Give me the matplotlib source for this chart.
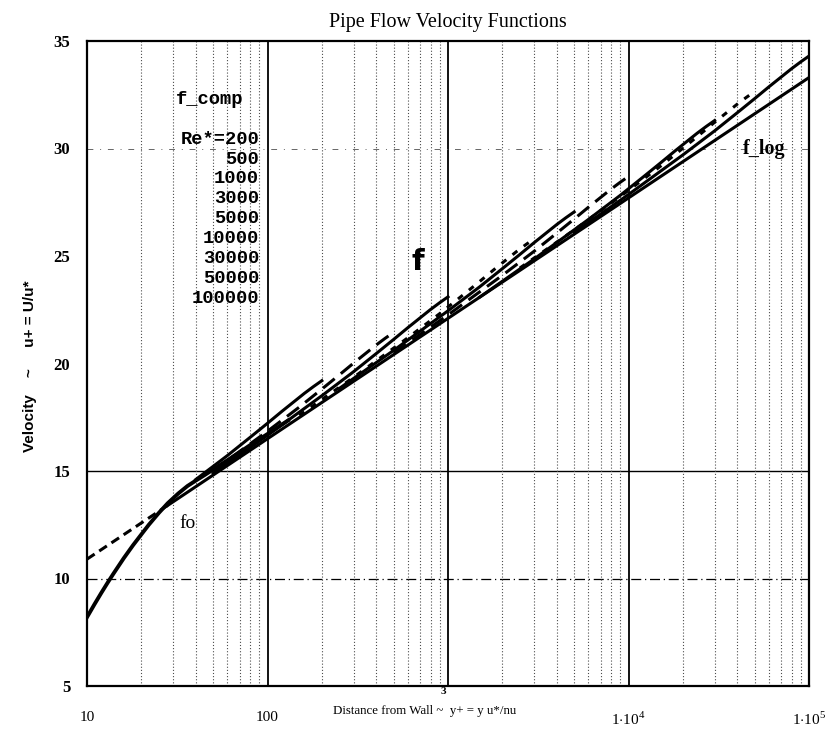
import numpy as np
import matplotlib.pyplot as plt
from matplotlib.ticker import LogLocator, NullFormatter

plt.rcParams['mathtext.fontset'] = 'custom'
plt.rcParams['mathtext.rm'] = 'Liberation Serif'

# near-wall function fo
fo_x = [10, 11, 12, 13, 14, 16, 18, 20, 22, 25, 28, 32, 36, 40, 45, 50, 60, 70, 80, 100, 130]
fo_y = [8.2, 8.8, 9.33, 9.8, 10.22, 10.95, 11.55, 12.05, 12.5, 13.05, 13.5, 13.95,
        14.3, 14.55, 14.82, 15.07, 15.5, 15.87, 16.2, 16.72, 17.35]

# log law f_log (dashed below the fo junction, solid above)
flog_x = [10, 28, 100, 1000, 10000, 100000]
flog_y = [10.9, 13.4, 16.5, 22.1, 27.7, 33.3]

# composite curves f_comp, one per Re*
re200_x = [40, 60, 80, 100, 120, 140, 160, 180, 200]
re200_y = [14.6, 15.72, 16.56, 17.22, 17.77, 18.22, 18.61, 18.93, 19.2]
re500_x = [50, 100, 150, 200, 250, 300, 350, 400, 450, 500]
re500_y = [15.01, 16.85, 17.97, 18.81, 19.47, 20.02, 20.47, 20.86, 21.18, 21.45]
re1000_x = [50, 100, 200, 300, 400, 500, 600, 700, 800, 900, 1000]
re1000_y = [14.89, 16.66, 18.5, 19.62, 20.46, 21.12, 21.67, 22.12, 22.51, 22.83, 23.1]
re3000_x = [150, 300, 600, 900, 1200, 1500, 1800, 2100, 2400, 2700, 3000]
re3000_y = [17.59, 19.36, 21.2, 22.32, 23.16, 23.82, 24.37, 24.82, 25.21, 25.53, 25.8]
re5000_x = [250, 500, 1000, 1500, 2000, 2500, 3000, 3500, 4000, 4500, 5000]
re5000_y = [18.84, 20.61, 22.45, 23.57, 24.41, 25.07, 25.62, 26.07, 26.46, 26.78, 27.05]
re10000_x = [500, 1000, 2000, 3000, 4000, 5000, 6000, 7000, 8000, 9000, 10000]
re10000_y = [20.49, 22.26, 24.1, 25.22, 26.06, 26.72, 27.27, 27.72, 28.11, 28.43, 28.7]
re30000_x = [1500, 3000, 6000, 9000, 12000, 15000, 18000, 21000, 24000, 27000, 30000]
re30000_y = [23.09, 24.86, 26.7, 27.82, 28.66, 29.32, 29.87, 30.32, 30.71, 31.03, 31.3]
re50000_x = [2500, 5000, 10000, 15000, 20000, 25000, 30000, 35000, 40000, 45000, 50000]
re50000_y = [24.44, 26.21, 28.05, 29.17, 30.01, 30.67, 31.22, 31.67, 32.06, 32.38, 32.65]
re100000_x = [5000, 10000, 20000, 30000, 40000, 50000, 60000, 70000, 80000, 90000, 100000]
re100000_y = [26.09, 27.86, 29.7, 30.82, 31.66, 32.32, 32.87, 33.32, 33.71, 34.03, 34.3]

re_labels = ['Re*=200', '500', '1000', '3000', '5000', '10000', '30000', '50000', '100000']
x_ticks = [10, 100, 1000, 10000, 100000]
x_ticklabels = ['10', '100', '', r'$1{\cdot}10^{4}$', r'$1{\cdot}10^{5}$']
y_ticks = [5, 10, 15, 20, 25, 30, 35]

W, H = 838, 734
fig = plt.figure(figsize=(W / 100, H / 100), dpi=100)
ax = fig.add_axes([87 / W, 1 - 686 / H, (809 - 87) / W, (686 - 41) / H])
ax.set_xscale('log')
ax.set_xlim(10, 1e5)
ax.set_ylim(5, 35)

# grid
ax.xaxis.set_minor_locator(LogLocator(base=10, subs=np.arange(2, 10)))
ax.xaxis.set_minor_formatter(NullFormatter())
ax.grid(which='minor', axis='x', color='0.3', ls=(0, (1, 1.8)), lw=0.8)
for xv in x_ticks[1:4]:
    ax.axvline(xv, color='black', lw=1.3, zorder=1)
ax.axhline(15, color='black', lw=1.0, zorder=1)
ax.axhline(10, color='black', lw=0.9, ls=(0, (8, 3, 1, 3)), zorder=1)
ax.axhline(30, color='0.4', lw=0.7, ls=(0, (6, 7, 1, 7)), zorder=1)

# curves
ax.plot(fo_x, fo_y, color='black', lw=2.8, zorder=3)
ax.plot(flog_x[:2], flog_y[:2], color='black', lw=2.2, ls=(0, (3, 1.8)), zorder=3)
ax.plot(flog_x[1:], flog_y[1:], color='black', lw=2.2, zorder=3)

solid = '-'
dash = (0, (4.9, 2.6))
dot = (0, (2.0, 2.6))
curves = [(re200_x, re200_y, solid), (re500_x, re500_y, dash),
          (re1000_x, re1000_y, solid), (re3000_x, re3000_y, dot),
          (re5000_x, re5000_y, solid), (re10000_x, re10000_y, dash),
          (re30000_x, re30000_y, solid), (re50000_x, re50000_y, dot),
          (re100000_x, re100000_y, solid)]
for cx, cy, ls in curves:
    ax.plot(cx, cy, color='black', lw=2.2, ls=ls, zorder=4)

# axes look
for s in ax.spines.values():
    s.set_linewidth(1.6)
ax.tick_params(which='both', length=0)
ax.set_xticks(x_ticks)
ax.set_xticklabels(x_ticklabels, family='Liberation Serif', size=11)
ax.tick_params(axis='x', pad=18)
ax.set_yticks(y_ticks)
ax.set_yticklabels([str(v) for v in y_ticks], family='Liberation Serif',
                   weight='bold', size=12)
ax.tick_params(axis='y', pad=12)

ax.set_title('Pipe Flow Velocity Functions', family='Liberation Serif',
             size=14.5, pad=10)


def px(x, y):
    return x / W, 1 - y / H


fig.text(*px(425, 711), 'Distance from Wall ~  y+ = y u*/nu', ha='center',
         va='center', family='Liberation Serif', size=9.3)
fig.text(*px(443, 692), '3', ha='center', va='center',
         family='Liberation Serif', size=8, weight='bold')
fig.text(*px(30, 366), 'Velocity    ~     u+ = U/u*', rotation=90, ha='center',
         va='center', family='Liberation Sans', weight='bold', size=11)

# legend block for f_comp
fig.text(*px(176, 99), 'f_comp', ha='left', va='center',
         family='Liberation Mono', weight='bold', size=13.5)
fig.text(*px(259, 139), re_labels[0], ha='right', va='center',
         family='Liberation Mono', weight='bold', size=13.5)
for i, lab in enumerate(re_labels[1:]):
    fig.text(*px(259, 159 + 19.9 * i), lab, ha='right', va='center',
             family='Liberation Mono', weight='bold', size=13.5)

fig.text(*px(188, 523), 'fo', ha='center', va='center',
         family='Liberation Serif', size=14)
fig.text(*px(418, 262), 'f', ha='center', va='center',
         family='DejaVu Sans', weight='bold', size=21)
fig.text(*px(764, 149), 'f_log', ha='center', va='center',
         family='Liberation Serif', weight='bold', size=14.5)

fig.savefig('out.png', dpi=100)
